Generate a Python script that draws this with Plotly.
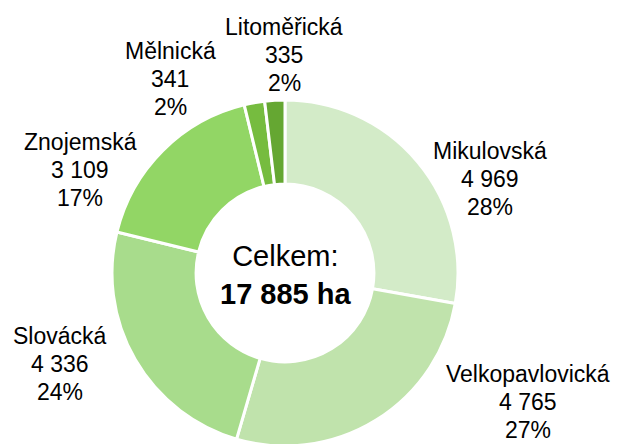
import plotly.graph_objects as go

regions = ["Mikulovská", "Velkopavlovická", "Slovácká", "Znojemská", "Mělnická", "Litoměřická"]
area_ha = [4969, 4765, 4336, 3109, 341, 335]
total_ha = 17885  # celkem, as printed in the source chart

colors = ["#D3EBC8", "#C0E3AC", "#A8DC8C", "#92D665", "#76BC3F", "#65A732"]
# centre of each label block in page pixels (x, y from top-left), Excel style placement
label_px = [(490, 179), (528, 402), (60, 364), (80, 170), (170, 79), (284, 55)]

W, H = 619, 444
OFF = 8          # the page body adds an 8px margin around the plot div
FONT = "Liberation Sans, Arial"
LINE = 28        # label line spacing, px

# pie centre / radius in page pixels
CX, CY, R = 285, 273, 173


def fmt(n):
    return f"{n:,}".replace(",", " ")


def px(x):
    return (x - OFF) / W


def py(y):
    return 1 - (y - OFF) / H


fig = go.Figure()
fig.add_trace(go.Pie(
    labels=regions,
    values=area_ha,
    hole=0.514,
    sort=False,
    direction="clockwise",
    rotation=0,
    marker=dict(colors=colors, line=dict(color="white", width=3)),
    textinfo="none",
    hoverinfo="label+value+percent",
    showlegend=False,
    domain=dict(x=[px(CX - R), px(CX + R)], y=[py(CY + R), py(CY - R)]),
))

s = sum(area_ha)
for name, val, (lx, ly) in zip(regions, area_ha, label_px):
    lines = [name, fmt(val), f"{round(val / s * 100)}%"]
    for i, t in enumerate(lines):
        fig.add_annotation(
            x=px(lx), y=py(ly), xref="paper", yref="paper",
            text=t, showarrow=False,
            xanchor="center", yanchor="middle",
            yshift=(1 - i) * LINE,
            font=dict(family=FONT, size=23, color="black"),
        )

fig.add_annotation(
    x=px(CX), y=py(275), xref="paper", yref="paper",
    text=f"Celkem:<br><b>{fmt(total_ha)} ha</b>",
    showarrow=False, align="center",
    xanchor="center", yanchor="middle",
    font=dict(family=FONT, size=29, color="black"),
)

fig.update_layout(
    width=W, height=H,
    margin=dict(l=0, r=0, t=0, b=0),
    paper_bgcolor="white",
    plot_bgcolor="white",
)

fig.write_html("out.html")
